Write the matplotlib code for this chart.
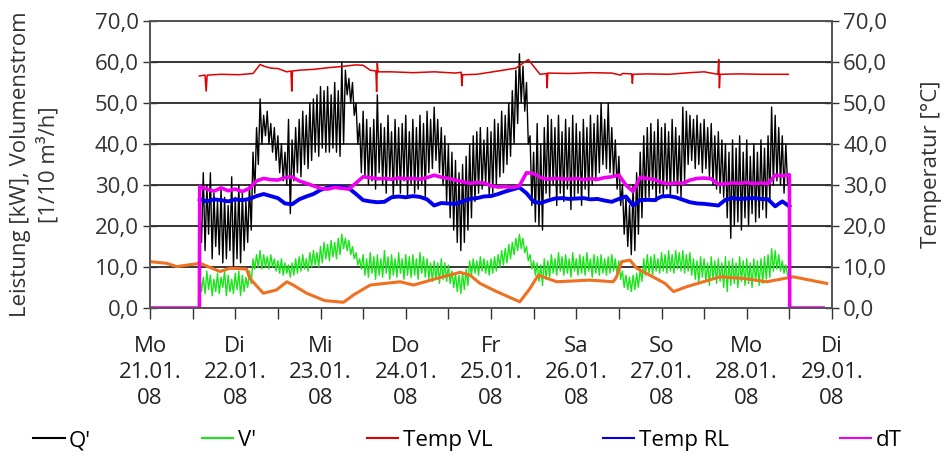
import numpy as np
import matplotlib.pyplot as plt
from matplotlib.lines import Line2D
from matplotlib.ticker import FuncFormatter, MultipleLocator

plt.rcParams['font.family'] = ['Open Sans', 'DejaVu Sans']
plt.rcParams['font.size'] = 16

# Zeitachse in Stunden ab Mo 21.01.08 00:00
day_labels = ['Mo\n21.01.\n08', 'Di\n22.01.\n08', 'Mi\n23.01.\n08', 'Do\n24.01.\n08',
              'Fr\n25.01.\n08', 'Sa\n26.01.\n08', 'So\n27.01.\n08', 'Mo\n28.01.\n08',
              'Di\n29.01.\n08']

# Q' Leistung [kW]: Spitzen / Taeler je Stunde, ab 14 Uhr Montag
q_first_hour = 14
q_hi = [24, 33, 30, 33, 28, 26, 29, 27, 25, 32,
        27, 30, 28, 26, 30, 38, 44, 51, 47, 48,
        45, 44, 42, 40, 38, 46, 41, 44, 46, 48,
        47, 50, 51, 52, 54, 53, 54, 52, 55, 53,
        60, 58, 56, 55, 50, 45, 48, 46, 44, 46,
        52, 45, 44, 47, 43, 46, 44, 45, 47, 43,
        46, 44, 47, 45, 48, 46, 49, 46, 44, 42,
        40, 38, 36, 33, 35, 37, 40, 42, 43, 44,
        41, 44, 43, 46, 45, 48, 47, 50, 53, 58,
        62, 59, 55, 42, 38, 45, 40, 44, 47, 46,
        44, 47, 43, 46, 44, 47, 45, 43, 46, 44,
        47, 45, 47, 50, 46, 50, 44, 41, 37, 30,
        27, 25, 30, 33, 38, 42, 44, 45, 43, 46,
        44, 45, 43, 46, 44, 42, 49, 48, 47, 46,
        47, 45, 46, 44, 45, 42, 43, 41, 40, 38,
        41, 39, 42, 38, 41, 37, 40, 38, 41, 39,
        42, 49, 47, 44, 42, 40]
q_lo = [16, 14, 18, 12, 15, 13, 11, 12, 14, 10,
        12, 11, 14, 16, 19, 28, 35, 40, 42, 40,
        38, 36, 33, 31, 30, 23, 31, 33, 32, 35,
        34, 36, 38, 37, 39, 38, 38, 39, 38, 37,
        40, 52, 50, 47, 40, 33, 32, 30, 31, 29,
        33, 30, 28, 32, 27, 30, 28, 31, 27, 30,
        28, 29, 30, 27, 33, 34, 36, 33, 30, 26,
        22, 19, 16, 14, 16, 19, 22, 26, 28, 29,
        30, 27, 28, 30, 32, 33, 35, 37, 40, 45,
        50, 48, 40, 25, 21, 20, 19, 28, 27, 30,
        25, 28, 26, 29, 24, 27, 28, 25, 29, 27,
        30, 31, 33, 35, 34, 33, 32, 29, 25, 18,
        15, 13, 14, 18, 22, 26, 27, 29, 26, 28,
        27, 29, 27, 30, 28, 27, 31, 35, 36, 34,
        35, 33, 34, 32, 30, 29, 28, 27, 22, 17,
        20, 21, 19, 22, 20, 23, 21, 22, 24, 22,
        26, 30, 31, 30, 28, 30]

# V' Volumenstrom [1/10 m3/h]: Spitzen / Taeler je Stunde
v_hi = [8, 7.5, 9, 8, 7, 8.5, 7.5, 9, 8, 7, 8.5, 9, 8, 7.5, 9,
        12, 13, 14, 13, 12.5, 13,
        12, 11.5, 12, 11, 10.5, 11,
        12, 12.5, 13, 12, 13.5, 14, 13.5,
        15, 16, 15.5, 16.5, 16, 17,
        18, 17, 16.5, 15, 13.5, 12,
        13, 12, 13.5, 12.5, 13, 12, 14, 12.5, 13, 12, 13.5, 12, 13, 12.5, 13, 12, 13.5, 12.5,
        12, 11, 11.5, 11, 12, 11, 10.5,
        9, 8.5, 8, 8.5, 9.5,
        11.5, 12, 11.5, 12.5, 12, 11.5, 12, 12.5,
        13, 14, 14.5, 15.5, 16, 17, 18,
        17, 15, 13, 11.5,
        11, 10.5, 12, 11.5,
        13, 12, 13.5, 12.5, 13, 12, 13.5, 12, 13, 12.5, 13.5, 12, 13, 12.5, 13, 12,
        12.5, 13, 12, 11.5,
        9, 8, 7.5, 8, 8.5, 9.5,
        12, 13, 12.5, 13, 12, 13.5, 13,
        14, 13, 14, 13.5, 14, 13, 13.5,
        12, 11.5, 12.5, 12, 11, 12.5, 11.5, 12, 11, 12.5, 11.5,
        12, 11, 12.5, 11.5, 12, 11, 12, 11.5, 12, 12.5, 13,
        14.5, 14, 13, 11.5, 10.5]
v_lo = [4, 3.5, 4.5, 3, 4, 3.5, 5, 3, 4, 3.5, 4.5, 3, 4, 5, 6,
        9.5, 10, 9.5, 10, 9.5, 10,
        9, 8.5, 8, 8.5, 7.5, 8,
        8.5, 9, 9.5, 9, 10, 10.5, 10,
        11, 12, 11.5, 12.5, 12, 13,
        14.5, 14, 13, 12, 10.5, 9.5,
        8, 7.5, 8.5, 7, 8, 7.5, 8.5, 7, 8, 7.5, 8.5, 7, 8, 7.5, 8, 7, 8.5, 7.5,
        7, 6.5, 7, 6, 7, 6.5, 6,
        5, 4, 3.5, 4.5, 5.5,
        8, 8.5, 8, 9, 8.5, 8, 8.5, 9,
        10, 10.5, 11, 12, 13, 14, 14.5,
        13.5, 11.5, 9.5, 8,
        6.5, 5.5, 7, 7.5,
        8.5, 8, 9, 8, 8.5, 7.5, 9, 8, 8.5, 8, 9, 7.5, 8.5, 8, 8.5, 8,
        8.5, 9, 8, 7,
        5, 4.5, 4, 4.5, 5, 6.5,
        8, 8.5, 8, 9, 8.5, 9, 8.5,
        9, 8.5, 9.5, 9, 8.5, 9, 8,
        7, 6, 7.5, 6.5, 5.5, 7, 6, 6.5, 5, 4, 5.5,
        6, 5, 6.5, 5.5, 6, 5, 6.5, 5.5, 6, 7, 7.5,
        9, 9.5, 9, 8.5, 8]

# Temp VL [°C]
vl_hours = [13.9, 15.5, 15.8, 16.1, 20, 25, 29, 31, 32, 34,
            36, 38.5, 39.7, 39.9, 40.1, 42, 46, 50, 54, 58,
            60, 62, 63.6, 63.8, 64.0, 64.2, 68, 74, 80, 86,
            87.6, 87.8, 88.0, 92, 98, 103, 106.5, 109.8, 111.6, 111.8,
            112.0, 118, 124, 130, 132.5, 133, 135.6, 135.8, 136.0, 140,
            146, 152, 156, 159.9, 160.1, 160.3, 160.5, 166, 172, 179.7]
temp_vl = [56.6, 56.8, 52.9, 56.8, 57.0, 56.9, 57.2, 59.4, 59.0, 58.5,
           58.4, 57.6, 57.8, 52.9, 57.8, 58.0, 58.2, 58.6, 58.9, 59.3,
           59.2, 58.0, 57.8, 52.8, 59.7, 57.6, 57.6, 57.4, 57.6, 57.3,
           57.5, 54.2, 56.9, 57.0, 57.8, 58.5, 60.6, 57.0, 57.2, 53.7,
           57.3, 57.2, 57.4, 57.3, 56.8, 57.2, 57.1, 54.8, 57.0, 57.1,
           57.0, 57.4, 57.6, 57.0, 60.6, 53.7, 57.0, 57.1, 57.0, 57.0]

# Temp RL und dT [°C], alle 2 Stunden von 14 bis 180 Uhr
rl_hours = list(range(14, 181, 2))
temp_rl = [26.5, 26.0, 26.5, 26.3, 26.0, 26.5, 26.3, 26.6, 27.3, 27.8,
           27.3, 26.8, 25.5, 25.3, 26.5, 27.2, 27.8, 28.8, 29.4, 29.6,
           29.5, 29.2, 27.8, 26.3, 26.0, 25.8, 25.9, 27.0, 27.2, 27.0,
           27.3, 27.1, 26.5, 25.0, 25.6, 25.5, 25.4, 26.0, 26.6, 26.8,
           27.2, 27.3, 27.8, 28.4, 28.9, 29.4, 28.0, 25.9, 25.6, 26.2,
           26.7, 26.8, 26.6, 26.7, 26.8, 26.5, 26.6, 26.2, 25.9, 26.6,
           27.2, 25.0, 26.3, 26.4, 26.3, 27.2, 27.3, 27.0, 26.4, 25.8,
           25.5, 25.4, 25.2, 25.0, 26.4, 26.8, 26.6, 26.7, 26.8, 26.6,
           26.5, 24.8, 26.0, 24.8]
dt_hours = [0, 13.9] + rl_hours + [180.1, 189.5]
dt = [0, 0,
      29.6, 29.0, 28.5, 29.3, 28.6, 29.0, 28.4, 29.2, 31.0, 31.6,
      31.3, 31.2, 31.8, 32.0, 31.0, 30.4, 29.8, 29.2, 29.0, 29.4,
      29.2, 29.0, 30.5, 32.0, 31.8, 31.5, 31.6, 31.4, 31.7, 31.5,
      31.6, 31.4, 31.8, 32.4, 31.9, 31.6, 31.2, 30.8, 30.4, 30.6,
      30.5, 29.8, 29.5, 29.6, 29.4, 29.8, 33.0, 32.8, 31.8, 31.4,
      31.6, 31.5, 31.4, 31.6, 31.3, 31.5, 31.4, 31.8, 32.0, 32.4,
      30.0, 28.4, 31.9, 31.6, 31.3, 30.6, 30.3, 30.5, 30.4, 31.2,
      31.6, 31.7, 31.5, 30.2, 30.3, 30.5, 30.4, 30.6, 30.3, 30.5,
      30.3, 32.4, 32.2, 32.5,
      0, 0]

# Aussentemperatur [°C] (ohne Legende)
ta_hours = [0, 4.7, 7.5, 14.1, 19.7, 22.5, 27.2, 28.1, 31.9, 35.6,
            38.5, 40.3, 44.1, 49.2, 54.5, 57.3, 62, 70.4, 74.2, 80.7,
            87.3, 90.1, 92.9, 97.1, 104.1, 107, 109.3, 114.5, 123.8, 130.4,
            131.3, 132.8, 135.1, 137, 140.7, 145, 147.4, 151.1, 160.5, 167.1,
            173.6, 181.1, 190.5]
temp_a = [11.3, 10.9, 10.1, 10.9, 8.9, 9.7, 9.5, 7.2, 3.6, 4.4,
          6.4, 5.6, 3.6, 1.8, 1.4, 3.2, 5.6, 6.4, 5.6, 7.2,
          8.7, 8.0, 6.0, 4.2, 1.5, 4.8, 8.0, 6.4, 6.8, 6.4,
          7.5, 11.3, 11.7, 9.7, 8.0, 6.0, 4.0, 5.2, 7.6, 7.2,
          6.4, 7.6, 6.0]

# Spitzen und Taeler abwechselnd zu einer Linie zusammensetzen
hours = q_first_hour + np.arange(len(q_hi))
t_zig = np.column_stack([hours, hours + 0.5]).ravel()
q_line = np.column_stack([q_hi, q_lo]).ravel()
v_line = np.column_stack([v_hi, v_lo]).ravel()

c_q, c_v, c_vl, c_rl, c_dt = 'black', '#19E619', '#E00000', '#0000EE', '#F000F0'

fig = plt.figure(figsize=(9.44, 4.62), dpi=100)
ax = fig.add_axes([150 / 944, 1 - 308 / 462, 682 / 944, 287 / 462])
ax2 = ax.twinx()

ax.plot(t_zig, q_line, color=c_q, lw=1.0)
ax.plot(t_zig, v_line, color=c_v, lw=1.0)
ax2.plot(ta_hours, temp_a, color='#F07022', lw=2.2)
ax2.plot(vl_hours, temp_vl, color=c_vl, lw=1.1)
ax2.plot(rl_hours, temp_rl, color=c_rl, lw=2.8)
ax2.plot(dt_hours, dt, color=c_dt, lw=2.6)

fmt = FuncFormatter(lambda v, p: f'{v:.1f}'.replace('.', ','))
for a in (ax, ax2):
    a.set_ylim(0, 70)
    a.yaxis.set_major_locator(MultipleLocator(10))
    a.yaxis.set_major_formatter(fmt)
    a.tick_params(axis='y', direction='inout', length=10, width=1, colors='#333333',
                  labelcolor='#333333', pad=3)
    for s in a.spines.values():
        s.set_color('#555555')
        s.set_linewidth(1.3)

ax.set_xlim(0, 192)
ax.set_xticks(np.arange(0, 193, 24))
ax.set_xticklabels(day_labels, linespacing=1.32)
ax.xaxis.set_minor_locator(MultipleLocator(12))
ax.tick_params(axis='x', which='both', direction='out', length=8, width=1,
               colors='#333333', labelcolor='#222222', pad=12)
ax.grid(axis='y', color='black', lw=1.1)
ax.set_axisbelow(True)

ax.set_ylabel('Leistung [kW], Volumenstrom\n[1/10 m³/h]', color='#333333',
              linespacing=1.35)
ax.yaxis.set_label_coords(-0.132, 0.5)
ax2.set_ylabel('Temperatur [°C]', color='#333333')
ax2.yaxis.set_label_coords(1.13, 0.5)

handles = [Line2D([], [], color=c, lw=1.5) for c in (c_q, c_v, c_vl, c_rl, c_dt)]
labels = ["Q'", "V'", 'Temp VL', 'Temp RL', 'dT']
fig.legend(handles, labels, loc='center left', bbox_to_anchor=(0.026, 0.046), ncol=5,
           frameon=False, handlelength=1.4, handletextpad=0.2, columnspacing=5.0,
           borderaxespad=0)

fig.savefig('out.png', dpi=100)
